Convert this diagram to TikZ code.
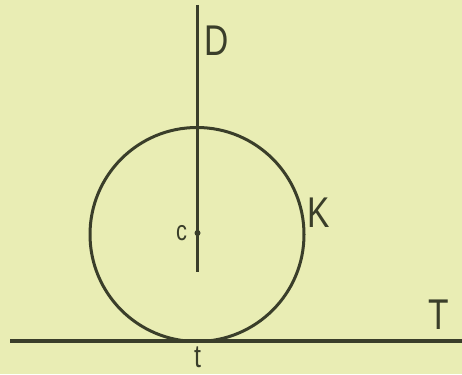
\documentclass[tikz,border=0pt]{standalone}
\usepackage{fontspec}
\setmainfont{Liberation Sans}
\newfontfamily\labfont[FakeStretch=0.78]{Liberation Sans}
\definecolor{paper}{HTML}{E9EDB4}
\definecolor{ink}{HTML}{3A3E2A}
\begin{document}
\begin{tikzpicture}[x=1pt,y=-1pt,
  geo/.style={draw=ink,line width=3pt},
  lbl/.style={text=ink,font=\labfont\fontsize{43}{45}\selectfont,inner sep=0pt,anchor=center}]
\fill[paper] (0,0) rectangle (462,374);
\useasboundingbox (0,0) rectangle (462,374);
\coordinate (c) at (197,234.5);
\coordinate (top) at (197,5);
\coordinate (bot) at (197,272);
\coordinate (Tl) at (10,341);
\coordinate (Tr) at (462,341);
\draw[geo] (c) circle (107);
\draw[geo] (top) -- (bot);
\draw[geo,line width=3.6pt] (Tl) -- (Tr);
\fill[ink] (197.5,233) circle (3);
\node[lbl] (D) at (216.5,40.5) {D};
\node[lbl] (K) at (319,212.5) {K};
\node[lbl,font=\labfont\fontsize{28}{30}\selectfont] (cl) at (181.5,233.5) {c};
\node[lbl,font=\labfont\fontsize{32}{34}\selectfont] (t) at (197.5,357.5) {t};
\node[lbl] (T) at (439,315) {T};
\end{tikzpicture}
\end{document}
